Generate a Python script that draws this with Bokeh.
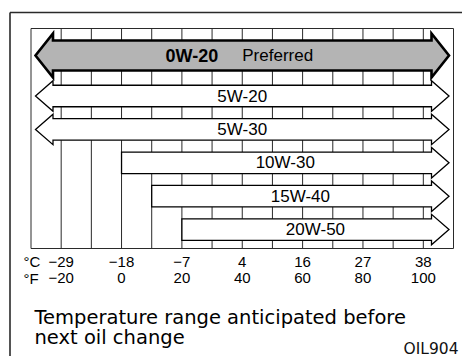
from bokeh.plotting import figure
from bokeh.models import Range1d, ColumnDataSource
from bokeh.core.properties import value
from bokeh.embed import file_html
from bokeh.resources import INLINE

# ---------------- data ----------------
grades = ["0W-20", "5W-20", "5W-30", "10W-30", "15W-40", "20W-50"]
low_f = [None, None, None, 0, 10, 20]        # None = open-ended (arrow) toward cold
high_f = [None, None, None, None, None, None]  # None = open-ended (arrow) toward hot
preferred_note = "Preferred"
tick_f = [-20, 0, 20, 40, 60, 80, 100]
tick_c = [-29, -18, -7, 4, 16, 27, 38]
grid_f = [-20, -10, 0, 10, 20, 30, 40, 50, 60, 70, 80, 90, 100]
f_min, f_max = -30, 110
caption_lines = ["Temperature range anticipated before", "next oil change"]
code_label = "OIL904"

# ---------------- layout (pixel space of the page) ----------------
W, H = 462, 356
box_left_px, box_right_px = 30.5, 453.0
box_top, box_bot = 28.0, 248.0
scale = (box_right_px - box_left_px) / (f_max - f_min)
X0 = f_min - box_left_px / scale
X1 = X0 + W / scale


def px(x):
    return X0 + x / scale


LINE = "#2a2a2a"
FONT = value("Liberation Sans")

p = figure(width=W, height=H, output_backend="svg", toolbar_location=None,
           x_range=Range1d(X0, X1), y_range=Range1d(H, 0),
           x_axis_type=None, y_axis_type=None, min_border=0,
           outline_line_color=None, background_fill_color="white",
           border_fill_color="white")
p.grid.visible = False

# outer frame (top + left; the rest runs off the picture)
p.segment(x0=[px(9.5), px(9.5)], y0=[12, 12], x1=[px(9.5), X1], y1=[H, 12],
          line_color=LINE, line_width=1.6)

# vertical grid lines and box
p.segment(x0=grid_f, y0=[box_top] * len(grid_f), x1=grid_f, y1=[box_bot] * len(grid_f),
          line_color=LINE, line_width=1)
p.quad(left=[f_min], right=[f_max], top=[box_top], bottom=[box_bot],
       fill_color=None, line_color=LINE, line_width=1)

# bars
tip_off = 4.5 / scale
base_off = 22.0 / scale
xs_all, ys_all, fills, lws = [], [], [], []
lab_x, lab_y, lab_t = [], [], []
pref_x = pref_y = None
for i, g in enumerate(grades):
    if i == 0:
        yc, h, head = 55.0, 30.0, 7.0
    else:
        yc, h, head = 95.5 + 33.4 * (i - 1), 21.5, 4.5
    top, bot = yc - h / 2, yc + h / 2
    xs, ys = [], []
    lo, hi = low_f[i], high_f[i]
    if lo is None:
        tip, base = f_min + tip_off, f_min + base_off
        xs += [base, base, tip, base, base]
        ys += [bot, bot + head, yc, top - head, top]
        left_end = tip
    else:
        xs += [lo, lo]
        ys += [bot, top]
        left_end = lo
    if hi is None:
        tip, base = f_max - tip_off, f_max - base_off
        xs += [base, base, tip, base, base]
        ys += [top, top - head, yc, bot + head, bot]
        right_end = tip
    else:
        xs += [hi, hi]
        ys += [top, bot]
        right_end = hi
    xs_all.append(xs)
    ys_all.append(ys)
    fills.append("#b4b4b4" if i == 0 else "white")
    lws.append(2.6 if i == 0 else 1.3)
    mid = (left_end + right_end) / 2
    if i == 0:
        pref_x, pref_y = mid, yc
    else:
        lab_x.append(mid)
        lab_y.append(yc)
        lab_t.append(g)

p.patches(xs="xs", ys="ys", fill_color="fill", line_width="lw", line_color="black",
          line_join="miter",
          source=ColumnDataSource(dict(xs=xs_all, ys=ys_all, fill=fills, lw=lws)))

p.text(x=lab_x, y=lab_y, text=lab_t, text_font=FONT, text_font_size="17px",
       text_align="center", text_baseline="middle", text_color="black")
p.text(x=[pref_x], y=[pref_y], text=[grades[0]], text_font=FONT, text_font_size="18px",
       text_font_style="bold", text_align="right", text_baseline="middle",
       x_offset=-24, text_color="black")
p.text(x=[pref_x], y=[pref_y], text=[preferred_note], text_font=FONT, text_font_size="17px",
       text_align="left", text_baseline="middle", x_offset=0, text_color="black")

# temperature scale
p.text(x=tick_f, y=[261] * len(tick_c), text=[str(c).replace("-", "\u2212") for c in tick_c],
       text_font=FONT, text_font_size="15px", text_align="center",
       text_baseline="middle", text_color="black")
p.text(x=tick_f, y=[277.5] * len(tick_f), text=[str(f).replace("-", "\u2212") for f in tick_f],
       text_font=FONT, text_font_size="15px", text_align="center",
       text_baseline="middle", text_color="black")
p.text(x=[px(23), px(23)], y=[261, 277.5], text=["\u00b0C", "\u00b0F"],
       text_font=FONT, text_font_size="15px", text_align="left",
       text_baseline="middle", text_color="black")

# caption
p.text(x=[px(34), px(34)], y=[317, 337], text=caption_lines,
       text_font=value("DejaVu Sans"), text_font_size="19.5px", text_align="left",
       text_baseline="alphabetic", text_color="black")
p.text(x=[px(458)], y=[348], text=[code_label],
       text_font=value("DejaVu Sans"), text_font_size="15.5px", text_align="right",
       text_baseline="alphabetic", text_color="#111111")

open("out.html", "w").write(file_html(p, INLINE))
